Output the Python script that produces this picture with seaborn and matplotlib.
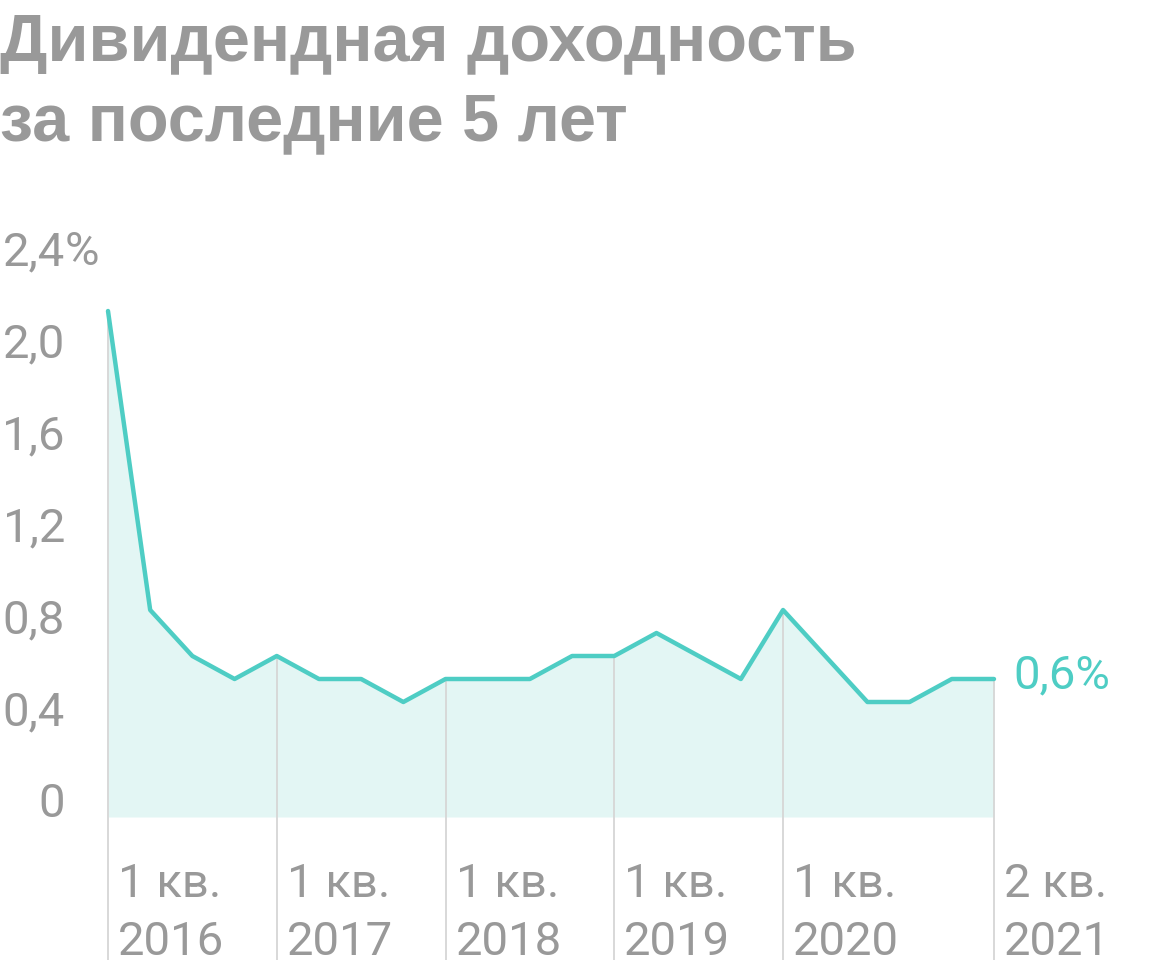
import numpy as np
import pandas as pd
import matplotlib.pyplot as plt
import seaborn as sns

# quarterly dividend yield, Q1 2016 .. Q2 2021 (%)
quarters = list(range(22))
yield_pct = [2.2, 0.9, 0.7, 0.6,
             0.7, 0.6, 0.6, 0.5,
             0.6, 0.6, 0.6, 0.7,
             0.7, 0.8, 0.7, 0.6,
             0.9, 0.7, 0.5, 0.5,
             0.6, 0.6]
mark_idx = [0, 4, 8, 12, 16, 21]
mark_labels = ["1 кв.\n2016", "1 кв.\n2017", "1 кв.\n2018",
               "1 кв.\n2019", "1 кв.\n2020", "2 кв.\n2021"]
y_ticks = [0, 0.4, 0.8, 1.2, 1.6, 2.0, 2.4]
y_tick_labels = ["0", "0,4", "0,8", "1,2", "1,6", "2,0", "2,4"]

TEAL = "#4ecdc4"
FILL = "#e3f6f4"
GRAY = "#999999"
GRID = "#d6d6d6"

sns.set_theme(style="white")
plt.rcParams["font.family"] = ["Roboto", "DejaVu Sans"]

df = pd.DataFrame({"q": quarters, "y": yield_pct})

W, H = 1160, 976
fig = plt.figure(figsize=(W / 100, H / 100), dpi=100)
ax = fig.add_axes([0, 0, 1, 1])

# pixel mapping: index 0 -> x=108, step 42.19 px; value 0 -> y=817, 1.0 -> 230 px
x0, dx = 108, 42.19
y0, dy = 817, 230.0
ax.set_xlim((0 - x0) / dx, (W - x0) / dx)
ax.set_ylim((y0 - H) / dy, y0 / dy)
ax.axis("off")

bottom = (y0 - 960) / dy
fs = 34

ax.fill_between(df["q"], 0, df["y"], color=FILL, lw=0, zorder=1)
ax.vlines([quarters[i] for i in mark_idx], bottom,
          [yield_pct[i] for i in mark_idx], color=GRID, lw=1.3, zorder=2)
sns.lineplot(data=df, x="q", y="y", ax=ax, color=TEAL, lw=3.2, zorder=3)

# y tick labels, right aligned, baseline at value
for v, lab in zip(y_ticks, y_tick_labels):
    ax.text((65 - x0) / dx, v, lab, ha="right", va="baseline",
            fontsize=fs, color=GRAY)
ax.text((65 - x0) / dx, 2.4, "%", ha="left", va="baseline",
        fontsize=fs, color=GRAY)

# x labels
for i, lab in zip(mark_idx, mark_labels):
    l1, l2 = lab.split("\n")
    ax.text(quarters[i] + 10 / dx, (y0 - 897) / dy, l1, ha="left", va="baseline",
            fontsize=fs, color=GRAY)
    ax.text(quarters[i] + 10 / dx, (y0 - 955) / dy, l2, ha="left", va="baseline",
            fontsize=fs, color=GRAY)

# last value label
ax.text(quarters[-1] + 19 / dx, yield_pct[-1] - 9 / dy, "0,6%", ha="left", va="baseline",
        fontsize=fs, color=TEAL)

# title
title_font = ["Liberation Sans Narrow", "Liberation Sans", "DejaVu Sans"]
fig.text(0, 1 - 60 / H, "Дивидендная доходность", ha="left", va="baseline",
         fontsize=48, fontweight="bold", color=GRAY, family=title_font)
fig.text(0, 1 - 140 / H, "за последние 5 лет", ha="left", va="baseline",
         fontsize=48, fontweight="bold", color=GRAY, family=title_font)

fig.savefig("out.png", dpi=100)
plt.close(fig)
